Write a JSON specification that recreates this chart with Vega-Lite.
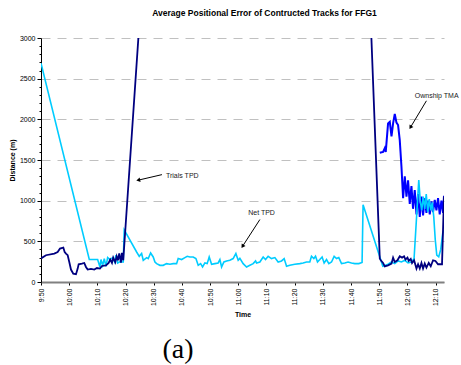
{
  "$schema": "https://vega.github.io/schema/vega-lite/v6.json",
  "autosize": {"type": "none"},
  "width": 403,
  "height": 244,
  "padding": {"left": 41, "top": 38, "right": 17, "bottom": 83},
  "background": "white",
  "view": {"stroke": null},
  "config": {
    "font": "Liberation Sans",
    "axis": {"labelFont": "Liberation Sans", "titleFont": "Liberation Sans", "labelColor": "black", "titleColor": "black"}
  },
  "title": {
    "text": "Average Positional Error of Contructed Tracks for FFG1",
    "font": "Liberation Sans",
    "fontSize": 8.5,
    "fontWeight": "bold",
    "color": "black",
    "anchor": "middle",
    "dx": 22,
    "offset": 17
  },
  "datasets": {
    "trials": [
      {"t": "2000-01-01T09:50:00", "v": 290}, {"t": "2000-01-01T09:51:46", "v": 329}, {"t": "2000-01-01T09:54:43", "v": 350},
      {"t": "2000-01-01T09:55:55", "v": 369}, {"t": "2000-01-01T09:56:44", "v": 411}, {"t": "2000-01-01T09:57:55", "v": 423},
      {"t": "2000-01-01T09:58:24", "v": 369}, {"t": "2000-01-01T09:58:52", "v": 350}, {"t": "2000-01-01T09:59:28", "v": 329},
      {"t": "2000-01-01T10:00:02", "v": 246}, {"t": "2000-01-01T10:00:38", "v": 153}, {"t": "2000-01-01T10:01:27", "v": 103},
      {"t": "2000-01-01T10:02:25", "v": 95}, {"t": "2000-01-01T10:03:01", "v": 165}, {"t": "2000-01-01T10:03:22", "v": 218},
      {"t": "2000-01-01T10:04:32", "v": 226}, {"t": "2000-01-01T10:05:21", "v": 234}, {"t": "2000-01-01T10:05:57", "v": 185},
      {"t": "2000-01-01T10:06:34", "v": 153}, {"t": "2000-01-01T10:07:44", "v": 160}, {"t": "2000-01-01T10:08:54", "v": 153},
      {"t": "2000-01-01T10:09:51", "v": 172}, {"t": "2000-01-01T10:10:55", "v": 165}, {"t": "2000-01-01T10:11:38", "v": 197},
      {"t": "2000-01-01T10:13:03", "v": 205}, {"t": "2000-01-01T10:14:00", "v": 234}, {"t": "2000-01-01T10:14:34", "v": 275},
      {"t": "2000-01-01T10:15:11", "v": 234}, {"t": "2000-01-01T10:15:38", "v": 300}, {"t": "2000-01-01T10:16:21", "v": 243},
      {"t": "2000-01-01T10:16:51", "v": 316}, {"t": "2000-01-01T10:17:18", "v": 267}, {"t": "2000-01-01T10:17:46", "v": 350},
      {"t": "2000-01-01T10:18:22", "v": 238}, {"t": "2000-01-01T10:18:43", "v": 357}, {"t": "2000-01-01T10:19:11", "v": 267},
      {"t": "2000-01-01T11:17:35", "v": 30000},
      {"t": "2000-01-01T11:50:13", "v": 288}, {"t": "2000-01-01T11:50:34", "v": 267}, {"t": "2000-01-01T11:51:23", "v": 234},
      {"t": "2000-01-01T11:51:59", "v": 193}, {"t": "2000-01-01T11:53:09", "v": 205}, {"t": "2000-01-01T11:54:22", "v": 226},
      {"t": "2000-01-01T11:54:56", "v": 300}, {"t": "2000-01-01T11:55:32", "v": 246}, {"t": "2000-01-01T11:56:29", "v": 267},
      {"t": "2000-01-01T11:57:18", "v": 316}, {"t": "2000-01-01T11:58:07", "v": 300}, {"t": "2000-01-01T11:58:50", "v": 316},
      {"t": "2000-01-01T11:59:20", "v": 276}, {"t": "2000-01-01T12:00:02", "v": 300}, {"t": "2000-01-01T12:00:30", "v": 259},
      {"t": "2000-01-01T12:01:12", "v": 283}, {"t": "2000-01-01T12:01:40", "v": 234}, {"t": "2000-01-01T12:02:23", "v": 267},
      {"t": "2000-01-01T12:03:14", "v": 165}, {"t": "2000-01-01T12:03:48", "v": 218}, {"t": "2000-01-01T12:04:24", "v": 165},
      {"t": "2000-01-01T12:05:00", "v": 234}, {"t": "2000-01-01T12:05:34", "v": 165}, {"t": "2000-01-01T12:06:10", "v": 226},
      {"t": "2000-01-01T12:06:46", "v": 177}, {"t": "2000-01-01T12:07:35", "v": 234}, {"t": "2000-01-01T12:08:18", "v": 193},
      {"t": "2000-01-01T12:09:07", "v": 267}, {"t": "2000-01-01T12:09:58", "v": 259}, {"t": "2000-01-01T12:10:53", "v": 218},
      {"t": "2000-01-01T12:12:18", "v": 218}, {"t": "2000-01-01T12:13:00", "v": 1050}
    ],
    "net": [
      {"t": "2000-01-01T09:50:00", "v": 2690}, {"t": "2000-01-01T10:07:08", "v": 276}, {"t": "2000-01-01T10:10:06", "v": 276},
      {"t": "2000-01-01T10:10:55", "v": 185}, {"t": "2000-01-01T10:11:17", "v": 276}, {"t": "2000-01-01T10:11:53", "v": 205},
      {"t": "2000-01-01T10:12:27", "v": 288}, {"t": "2000-01-01T10:13:03", "v": 193}, {"t": "2000-01-01T10:13:39", "v": 300},
      {"t": "2000-01-01T10:14:28", "v": 276}, {"t": "2000-01-01T10:15:26", "v": 300}, {"t": "2000-01-01T10:16:08", "v": 246},
      {"t": "2000-01-01T10:16:36", "v": 329}, {"t": "2000-01-01T10:17:12", "v": 234}, {"t": "2000-01-01T10:17:46", "v": 246},
      {"t": "2000-01-01T10:19:11", "v": 246}, {"t": "2000-01-01T10:19:32", "v": 640}, {"t": "2000-01-01T10:23:56", "v": 369},
      {"t": "2000-01-01T10:24:52", "v": 316}, {"t": "2000-01-01T10:25:42", "v": 350}, {"t": "2000-01-01T10:26:17", "v": 267},
      {"t": "2000-01-01T10:27:29", "v": 300}, {"t": "2000-01-01T10:28:03", "v": 288}, {"t": "2000-01-01T10:28:54", "v": 357},
      {"t": "2000-01-01T10:29:49", "v": 308}, {"t": "2000-01-01T10:30:26", "v": 246}, {"t": "2000-01-01T10:31:02", "v": 226},
      {"t": "2000-01-01T10:32:12", "v": 205}, {"t": "2000-01-01T10:33:22", "v": 205}, {"t": "2000-01-01T10:34:34", "v": 226},
      {"t": "2000-01-01T10:35:45", "v": 218}, {"t": "2000-01-01T10:36:55", "v": 226}, {"t": "2000-01-01T10:38:07", "v": 226},
      {"t": "2000-01-01T10:38:41", "v": 288}, {"t": "2000-01-01T10:39:54", "v": 276}, {"t": "2000-01-01T10:41:04", "v": 300},
      {"t": "2000-01-01T10:41:53", "v": 316}, {"t": "2000-01-01T10:42:50", "v": 308}, {"t": "2000-01-01T10:44:00", "v": 308},
      {"t": "2000-01-01T10:44:58", "v": 288}, {"t": "2000-01-01T10:45:47", "v": 205}, {"t": "2000-01-01T10:46:38", "v": 226},
      {"t": "2000-01-01T10:47:20", "v": 185}, {"t": "2000-01-01T10:48:09", "v": 234}, {"t": "2000-01-01T10:48:58", "v": 226},
      {"t": "2000-01-01T10:49:41", "v": 308}, {"t": "2000-01-01T10:50:32", "v": 218}, {"t": "2000-01-01T10:51:42", "v": 226},
      {"t": "2000-01-01T10:52:52", "v": 234}, {"t": "2000-01-01T10:53:29", "v": 276}, {"t": "2000-01-01T10:54:05", "v": 185},
      {"t": "2000-01-01T10:54:54", "v": 246}, {"t": "2000-01-01T10:55:51", "v": 259}, {"t": "2000-01-01T10:57:01", "v": 267},
      {"t": "2000-01-01T10:58:11", "v": 288}, {"t": "2000-01-01T10:59:09", "v": 350}, {"t": "2000-01-01T10:59:58", "v": 267},
      {"t": "2000-01-01T11:00:34", "v": 290}, {"t": "2000-01-01T11:01:44", "v": 226}, {"t": "2000-01-01T11:02:57", "v": 185},
      {"t": "2000-01-01T11:04:07", "v": 205}, {"t": "2000-01-01T11:05:17", "v": 226}, {"t": "2000-01-01T11:06:08", "v": 259},
      {"t": "2000-01-01T11:06:29", "v": 234}, {"t": "2000-01-01T11:07:40", "v": 246}, {"t": "2000-01-01T11:08:50", "v": 308},
      {"t": "2000-01-01T11:09:41", "v": 276}, {"t": "2000-01-01T11:10:36", "v": 316}, {"t": "2000-01-01T11:11:48", "v": 288},
      {"t": "2000-01-01T11:12:59", "v": 300}, {"t": "2000-01-01T11:14:09", "v": 246}, {"t": "2000-01-01T11:15:21", "v": 259},
      {"t": "2000-01-01T11:16:17", "v": 288}, {"t": "2000-01-01T11:17:08", "v": 193}, {"t": "2000-01-01T11:18:18", "v": 205},
      {"t": "2000-01-01T11:20:04", "v": 218}, {"t": "2000-01-01T11:21:51", "v": 226}, {"t": "2000-01-01T11:23:01", "v": 234},
      {"t": "2000-01-01T11:24:13", "v": 246}, {"t": "2000-01-01T11:25:23", "v": 246}, {"t": "2000-01-01T11:25:59", "v": 316},
      {"t": "2000-01-01T11:26:49", "v": 288}, {"t": "2000-01-01T11:27:25", "v": 316}, {"t": "2000-01-01T11:28:07", "v": 246},
      {"t": "2000-01-01T11:28:56", "v": 276}, {"t": "2000-01-01T11:29:45", "v": 308}, {"t": "2000-01-01T11:30:28", "v": 234},
      {"t": "2000-01-01T11:31:19", "v": 276}, {"t": "2000-01-01T11:32:08", "v": 226}, {"t": "2000-01-01T11:33:05", "v": 246},
      {"t": "2000-01-01T11:34:01", "v": 316}, {"t": "2000-01-01T11:34:51", "v": 288}, {"t": "2000-01-01T11:35:40", "v": 300},
      {"t": "2000-01-01T11:36:38", "v": 226}, {"t": "2000-01-01T11:37:48", "v": 234}, {"t": "2000-01-01T11:38:58", "v": 246},
      {"t": "2000-01-01T11:40:11", "v": 234}, {"t": "2000-01-01T11:41:21", "v": 226}, {"t": "2000-01-01T11:42:46", "v": 226},
      {"t": "2000-01-01T11:43:56", "v": 240}, {"t": "2000-01-01T11:44:17", "v": 950}, {"t": "2000-01-01T11:51:17", "v": 195},
      {"t": "2000-01-01T11:53:09", "v": 218}, {"t": "2000-01-01T11:54:22", "v": 246}, {"t": "2000-01-01T11:55:32", "v": 226},
      {"t": "2000-01-01T11:56:42", "v": 259}, {"t": "2000-01-01T11:57:54", "v": 246}, {"t": "2000-01-01T11:59:05", "v": 267},
      {"t": "2000-01-01T12:00:15", "v": 234}, {"t": "2000-01-01T12:01:27", "v": 246}, {"t": "2000-01-01T12:02:23", "v": 288},
      {"t": "2000-01-01T12:04:03", "v": 1252}, {"t": "2000-01-01T12:04:34", "v": 1000}, {"t": "2000-01-01T12:05:06", "v": 880},
      {"t": "2000-01-01T12:05:38", "v": 1050}, {"t": "2000-01-01T12:06:10", "v": 900}, {"t": "2000-01-01T12:06:42", "v": 1080},
      {"t": "2000-01-01T12:07:14", "v": 860}, {"t": "2000-01-01T12:07:46", "v": 1020}, {"t": "2000-01-01T12:08:18", "v": 880},
      {"t": "2000-01-01T12:08:50", "v": 980}, {"t": "2000-01-01T12:09:22", "v": 800}, {"t": "2000-01-01T12:09:54", "v": 520},
      {"t": "2000-01-01T12:10:26", "v": 330}, {"t": "2000-01-01T12:11:08", "v": 310}, {"t": "2000-01-01T12:11:51", "v": 400},
      {"t": "2000-01-01T12:12:33", "v": 600}, {"t": "2000-01-01T12:13:00", "v": 640}
    ],
    "ownship": [
      {"t": "2000-01-01T11:50:13", "v": 1590}, {"t": "2000-01-01T11:51:23", "v": 1600}, {"t": "2000-01-01T11:51:59", "v": 1645},
      {"t": "2000-01-01T11:52:20", "v": 1600}, {"t": "2000-01-01T11:53:09", "v": 1950}, {"t": "2000-01-01T11:53:46", "v": 1970},
      {"t": "2000-01-01T11:54:22", "v": 1790}, {"t": "2000-01-01T11:54:56", "v": 1950}, {"t": "2000-01-01T11:55:32", "v": 2065},
      {"t": "2000-01-01T11:56:08", "v": 1960}, {"t": "2000-01-01T11:56:42", "v": 1930}, {"t": "2000-01-01T11:57:18", "v": 1745},
      {"t": "2000-01-01T11:57:54", "v": 1420}, {"t": "2000-01-01T11:58:29", "v": 1030}, {"t": "2000-01-01T11:59:05", "v": 1300},
      {"t": "2000-01-01T11:59:41", "v": 1050}, {"t": "2000-01-01T12:00:15", "v": 1250}, {"t": "2000-01-01T12:00:51", "v": 960},
      {"t": "2000-01-01T12:01:27", "v": 1180}, {"t": "2000-01-01T12:02:01", "v": 900}, {"t": "2000-01-01T12:02:37", "v": 1130},
      {"t": "2000-01-01T12:03:14", "v": 830}, {"t": "2000-01-01T12:03:48", "v": 1080}, {"t": "2000-01-01T12:04:24", "v": 800},
      {"t": "2000-01-01T12:05:00", "v": 1050}, {"t": "2000-01-01T12:05:34", "v": 820}, {"t": "2000-01-01T12:06:10", "v": 1030},
      {"t": "2000-01-01T12:06:46", "v": 850}, {"t": "2000-01-01T12:07:20", "v": 1000}, {"t": "2000-01-01T12:07:57", "v": 830},
      {"t": "2000-01-01T12:08:33", "v": 990}, {"t": "2000-01-01T12:09:07", "v": 860}, {"t": "2000-01-01T12:09:43", "v": 1010},
      {"t": "2000-01-01T12:10:19", "v": 880}, {"t": "2000-01-01T12:10:53", "v": 1030}, {"t": "2000-01-01T12:11:29", "v": 830},
      {"t": "2000-01-01T12:12:05", "v": 1000}, {"t": "2000-01-01T12:12:40", "v": 850}, {"t": "2000-01-01T12:13:00", "v": 1060}
    ],
    "arrows": [
      {"label": "Trials TPD", "t": "2000-01-01T10:32:55", "v": 1320, "t2": "2000-01-01T10:24:30", "v2": 1252, "lt": "2000-01-01T10:34:20", "lv": 1301},
      {"label": "Net TPD", "t": "2000-01-01T11:07:40", "v": 768, "t2": "2000-01-01T11:01:31", "v2": 439, "lt": "2000-01-01T11:03:31", "lv": 846},
      {"label": "Ownship TMA", "t": "2000-01-01T12:06:46", "v": 2228, "t2": "2000-01-01T12:01:06", "v2": 1901, "lt": "2000-01-01T12:02:37", "lv": 2286}
    ],
    "caption": [
      {"t": "2000-01-01T10:38:35", "v": -841, "text": "(a)"}
    ]
  },
  "encoding": {
    "x": {
      "field": "t",
      "type": "temporal",
      "scale": {
        "domain": ["2000-01-01T09:50:00", "2000-01-01T12:13:00"],
        "nice": false
      },
      "axis": {
        "title": "Time",
        "titleFontSize": 7,
        "titleFontWeight": "bold",
        "titlePadding": 5,
        "format": "%-H:%M",
        "values": [
          {"year": 2000, "month": 1, "date": 1, "hours": 9, "minutes": 50},
          {"year": 2000, "month": 1, "date": 1, "hours": 10, "minutes": 0},
          {"year": 2000, "month": 1, "date": 1, "hours": 10, "minutes": 10},
          {"year": 2000, "month": 1, "date": 1, "hours": 10, "minutes": 20},
          {"year": 2000, "month": 1, "date": 1, "hours": 10, "minutes": 30},
          {"year": 2000, "month": 1, "date": 1, "hours": 10, "minutes": 40},
          {"year": 2000, "month": 1, "date": 1, "hours": 10, "minutes": 50},
          {"year": 2000, "month": 1, "date": 1, "hours": 11, "minutes": 0},
          {"year": 2000, "month": 1, "date": 1, "hours": 11, "minutes": 10},
          {"year": 2000, "month": 1, "date": 1, "hours": 11, "minutes": 20},
          {"year": 2000, "month": 1, "date": 1, "hours": 11, "minutes": 30},
          {"year": 2000, "month": 1, "date": 1, "hours": 11, "minutes": 40},
          {"year": 2000, "month": 1, "date": 1, "hours": 11, "minutes": 50},
          {"year": 2000, "month": 1, "date": 1, "hours": 12, "minutes": 0},
          {"year": 2000, "month": 1, "date": 1, "hours": 12, "minutes": 10}
        ],
        "labelAngle": 270,
        "labelFontSize": 7,
        "labelPadding": 3,
        "labelFlush": false,
        "labelOverlap": false,
        "domainColor": "#808080",
        "domainWidth": 2,
        "tickColor": "black",
        "tickSize": 3,
        "grid": false
      }
    },
    "y": {
      "field": "v",
      "type": "quantitative",
      "scale": {"domain": [0, 3000], "nice": false},
      "axis": {
        "title": "Distance (m)",
        "titleFontSize": 7,
        "titleFontWeight": "bold",
        "titlePadding": 4,
        "values": [0, 100, 200, 300, 400, 500, 600, 700, 800, 900, 1000, 1100, 1200, 1300, 1400, 1500, 1600, 1700, 1800, 1900, 2000, 2100, 2200, 2300, 2400, 2500, 2600, 2700, 2800, 2900, 3000],
        "format": "d",
        "labelExpr": "datum.value % 500 === 0 ? datum.label : ''",
        "labelOverlap": false,
        "labelFontSize": 7,
        "labelPadding": 2,
        "domainColor": "black",
        "tickColor": "black",
        "tickSize": {"condition": {"test": "datum.value % 500 === 0", "value": 4}, "value": 2},
        "grid": true,
        "gridColor": "#c0c0c0",
        "gridDash": [9, 7],
        "gridWidth": 1,
        "gridOpacity": {"condition": {"test": "datum.value % 500 === 0", "value": 1}, "value": 0}
      }
    }
  },
  "layer": [
    {
      "data": {"name": "ownship"},
      "mark": {"type": "line", "color": "#0000FF", "strokeWidth": 2, "clip": true},
      "encoding": {}
    },
    {
      "data": {"name": "net"},
      "mark": {"type": "line", "color": "#00CCFF", "strokeWidth": 1.6, "clip": true},
      "encoding": {}
    },
    {
      "data": {"name": "trials"},
      "mark": {"type": "line", "color": "#000080", "strokeWidth": 1.8, "clip": true},
      "encoding": {}
    },
    {
      "data": {"name": "arrows"},
      "mark": {"type": "rule", "color": "black", "strokeWidth": 1},
      "encoding": {
        "x2": {"field": "t2"},
        "y2": {"field": "v2"}
      }
    },
    {
      "data": {"name": "arrows"},
      "transform": [{"filter": "datum.label == 'Trials TPD'"}],
      "mark": {"type": "point", "shape": "triangle-up", "filled": true, "color": "black", "size": 20, "angle": 257, "opacity": 1},
      "encoding": {
        "x": {"field": "t2", "type": "temporal"},
        "y": {"field": "v2", "type": "quantitative"}
      }
    },
    {
      "data": {"name": "arrows"},
      "transform": [{"filter": "datum.label == 'Net TPD'"}],
      "mark": {"type": "point", "shape": "triangle-up", "filled": true, "color": "black", "size": 20, "angle": 213, "opacity": 1},
      "encoding": {
        "x": {"field": "t2", "type": "temporal"},
        "y": {"field": "v2", "type": "quantitative"}
      }
    },
    {
      "data": {"name": "arrows"},
      "transform": [{"filter": "datum.label == 'Ownship TMA'"}],
      "mark": {"type": "point", "shape": "triangle-up", "filled": true, "color": "black", "size": 20, "angle": 211, "opacity": 1},
      "encoding": {
        "x": {"field": "t2", "type": "temporal"},
        "y": {"field": "v2", "type": "quantitative"}
      }
    },
    {
      "data": {"name": "arrows"},
      "mark": {"type": "text", "font": "Liberation Sans", "fontSize": 7, "color": "#222222", "align": "left", "baseline": "middle"},
      "encoding": {
        "x": {"field": "lt", "type": "temporal"},
        "y": {"field": "lv", "type": "quantitative"},
        "text": {"field": "label"}
      }
    },
    {
      "data": {"name": "caption"},
      "mark": {"type": "text", "font": "Liberation Serif", "fontSize": 28, "color": "black", "align": "center", "baseline": "middle"},
      "encoding": {
        "text": {"field": "text"}
      }
    }
  ]
}
